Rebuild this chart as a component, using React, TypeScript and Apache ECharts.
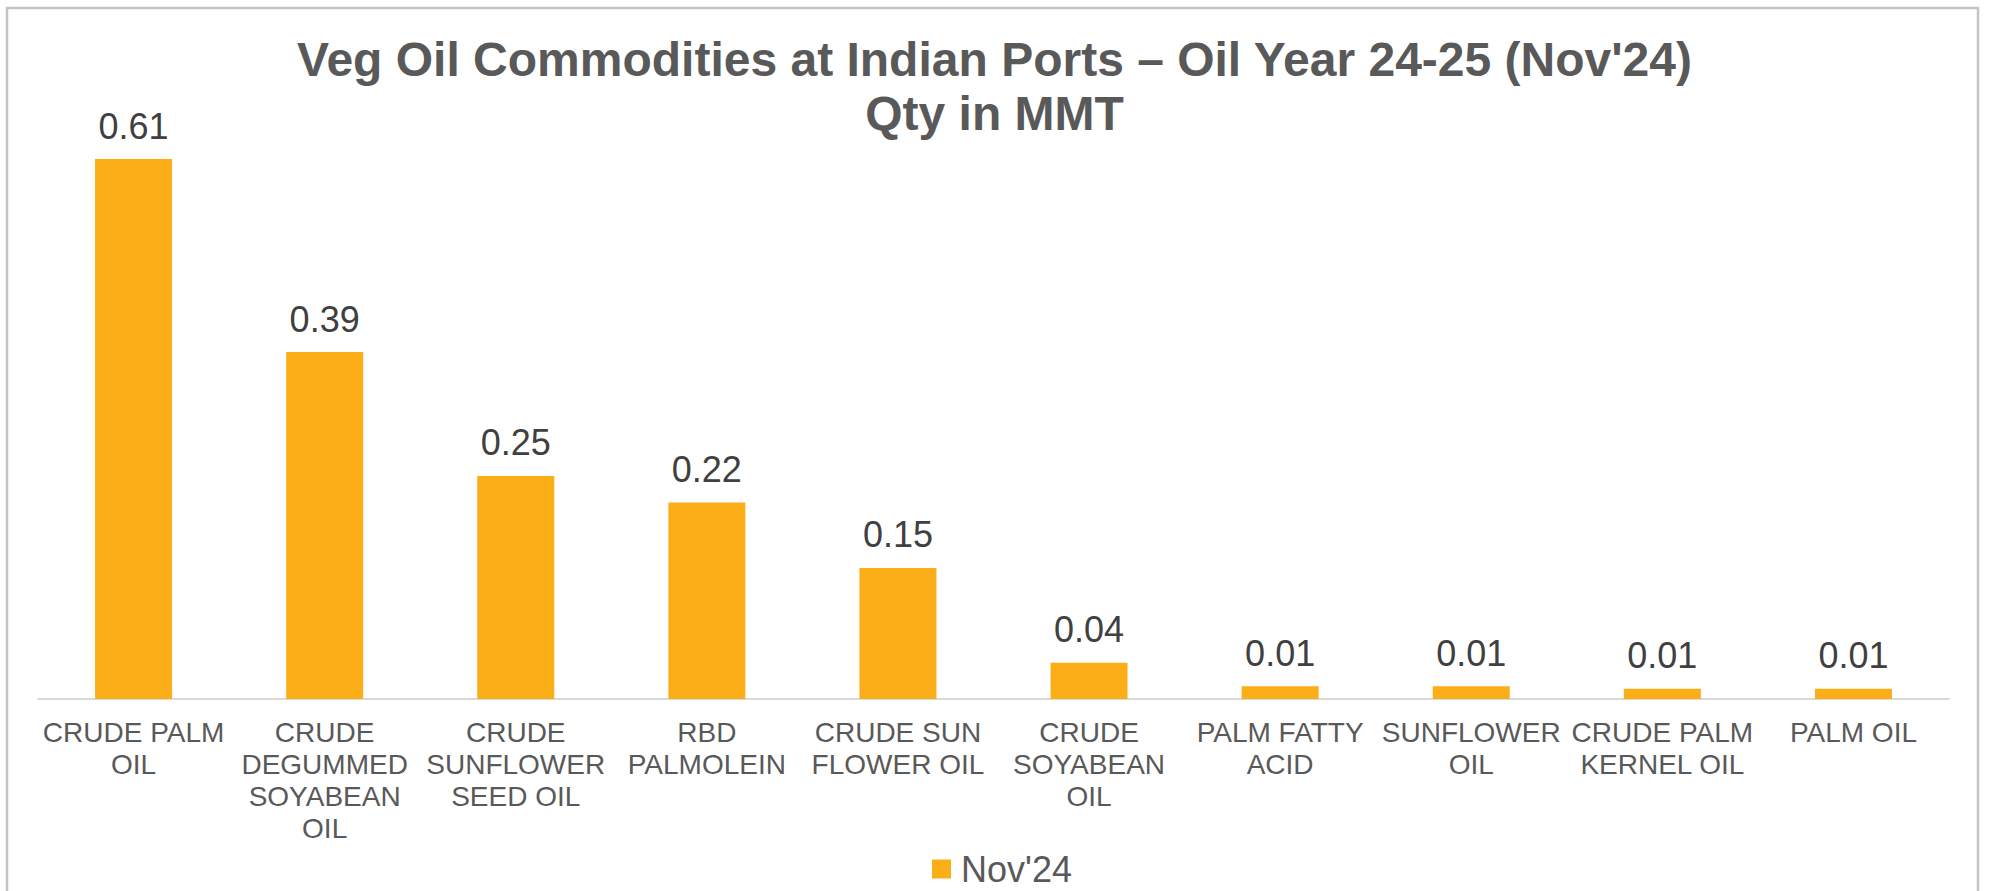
import React, { useEffect, useRef } from "react";
import * as echarts from "echarts";

const categories = [
  "CRUDE PALM\nOIL",
  "CRUDE\nDEGUMMED\nSOYABEAN\nOIL",
  "CRUDE\nSUNFLOWER\nSEED OIL",
  "RBD\nPALMOLEIN",
  "CRUDE SUN\nFLOWER OIL",
  "CRUDE\nSOYABEAN\nOIL",
  "PALM FATTY\nACID",
  "SUNFLOWER\nOIL",
  "CRUDE PALM\nKERNEL OIL",
  "PALM OIL",
];
const seriesName = "Nov'24";
const values = [0.61, 0.392, 0.252, 0.222, 0.148, 0.041, 0.0145, 0.0145, 0.0115, 0.0115];
const titleLines = [
  "Veg Oil Commodities at Indian Ports – Oil Year 24-25 (Nov'24)",
  "Qty in MMT",
];

const FONT = "'Liberation Sans', Arial, sans-serif";

export default function App() {
  const ref = useRef<HTMLDivElement>(null);
  useEffect(() => {
    if (!ref.current) return;
    const chart = echarts.init(ref.current, undefined, { renderer: "svg" });
    chart.setOption({
      animation: false,
      backgroundColor: "#ffffff",
      title: {
        text: titleLines.join("\n"),
        left: "center",
        top: 27,
        textStyle: {
          fontFamily: FONT,
          fontSize: 48,
          fontWeight: "bold",
          color: "#595959",
          lineHeight: 54,
        },
      },
      legend: {
        data: [seriesName],
        left: 927,
        top: 846,
        icon: "rect",
        itemWidth: 19,
        itemHeight: 19,
        textStyle: {
          fontFamily: FONT,
          fontSize: 36,
          lineHeight: 30,
          color: "#595959",
          padding: [0, 0, 0, 5],
        },
      },
      grid: { left: 38, right: 40, top: 79.4, bottom: 192, containLabel: false },
      xAxis: {
        type: "category",
        data: categories,
        axisLine: { lineStyle: { color: "#d9d9d9", width: 2 } },
        axisTick: { show: false },
        axisLabel: {
          interval: 0,
          margin: 17,
          fontFamily: FONT,
          fontSize: 28,
          lineHeight: 32,
          color: "#595959",
          align: "center",
        },
      },
      yAxis: {
        type: "value",
        min: 0,
        max: 0.7,
        show: false,
        splitLine: { show: false },
      },
      series: [
        {
          name: seriesName,
          type: "bar",
          data: values,
          barWidth: 77,
          itemStyle: { color: "#FBAE17" },
          label: {
            show: true,
            position: "top",
            distance: 15,
            fontFamily: FONT,
            fontSize: 36,
            color: "#404040",
            formatter: (p: any) => Number(p.value).toFixed(2),
          },
        },
      ],
      graphic: [
        {
          type: "rect",
          shape: { x: 7, y: 8, width: 1971, height: 900 },
          style: { fill: "none", stroke: "#c4c4c4", lineWidth: 2.5 },
          silent: true,
        },
      ],
    });
    return () => chart.dispose();
  }, []);
  return (
    <div
      ref={ref}
      style={{ position: "absolute", left: 0, top: 0, width: 1989, height: 891 }}
    />
  );
}
